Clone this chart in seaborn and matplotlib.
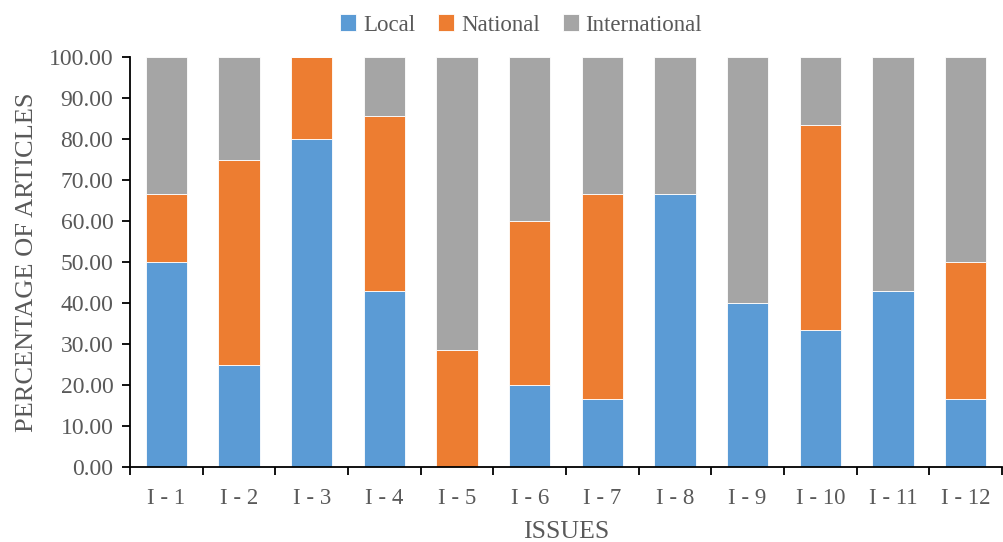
import matplotlib
matplotlib.use("Agg")
import matplotlib.pyplot as plt
import numpy as np
import pandas as pd
import seaborn as sns

issues = ["I - 1", "I - 2", "I - 3", "I - 4", "I - 5", "I - 6",
          "I - 7", "I - 8", "I - 9", "I - 10", "I - 11", "I - 12"]
local = [50.00, 25.00, 80.00, 42.86, 0.00, 20.00, 16.67, 66.67, 40.00, 33.33, 42.86, 16.67]
national = [16.67, 50.00, 20.00, 42.86, 28.57, 40.00, 50.00, 0.00, 0.00, 50.00, 0.00, 33.33]
international = [33.33, 25.00, 0.00, 14.29, 71.43, 40.00, 33.33, 33.33, 60.00, 16.67, 57.14, 50.00]

series = [("Local", local, "#5B9BD5"),
          ("National", national, "#ED7D31"),
          ("International", international, "#A5A5A5")]

sns.set_theme(style="white")
plt.rcParams["font.family"] = ["Liberation Serif", "DejaVu Serif"]
text_color = "#595959"

fig = plt.figure(figsize=(10.04, 5.42), dpi=100)
ax = fig.add_axes([130 / 1004, 1 - 467 / 542, (1002 - 130) / 1004, (467 - 57) / 542])

bottom = np.zeros(len(issues))
for name, vals, color in series:
    df = pd.DataFrame({"issue": issues, "value": vals})
    sns.barplot(data=df, x="issue", y="value", color=color, saturation=1, width=1 / 1.75,
                bottom=bottom, label=name, ax=ax, edgecolor="white", linewidth=0.6)
    bottom = bottom + np.array(vals)

ax.set_xlim(-0.5, len(issues) - 0.5)
ax.set_ylim(0, 100)
ax.set_yticks(np.arange(0, 101, 10))
ax.set_yticklabels([f"{v:.2f}" for v in np.arange(0, 101, 10)])

ax.set_xticks(np.arange(-0.5, len(issues), 1.0), minor=True)
ax.tick_params(axis="x", which="major", length=0, pad=15, labelsize=16.5, labelcolor=text_color)
ax.tick_params(axis="x", which="minor", length=6, width=1.3, color="black", direction="out", bottom=True)
ax.tick_params(axis="y", which="major", length=6, width=1.3, color="black", direction="out", left=True,
               labelsize=17, labelcolor=text_color, pad=6)

for side in ["top", "right"]:
    ax.spines[side].set_visible(False)
for side in ["left", "bottom"]:
    ax.spines[side].set_visible(True)
    ax.spines[side].set_color("black")
    ax.spines[side].set_linewidth(1.3)

ax.set_xlabel("ISSUES", fontsize=18.5, color=text_color, labelpad=9)
ax.set_ylabel("PERCENTAGE OF ARTICLES", fontsize=19, color=text_color, labelpad=8)

handles, labels = ax.get_legend_handles_labels()
fig.legend(handles, labels, loc="center", bbox_to_anchor=(0.519, 1 - 25 / 542), ncol=3,
           frameon=False, fontsize=16.5, labelcolor=text_color, handlelength=0.7, handleheight=0.7,
           handletextpad=0.3, columnspacing=1.0)
if ax.get_legend() is not None:
    ax.get_legend().remove()

fig.savefig("out.png", dpi=100)
